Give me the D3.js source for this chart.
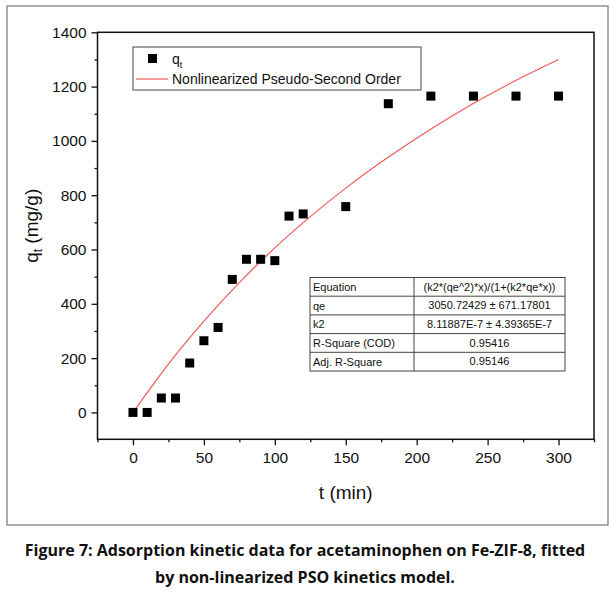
<!DOCTYPE html>
<html>
<head>
<meta charset="UTF-8">
<script src="https://d3js.org/d3.v7.min.js"></script>
<style>
  body { margin: 0; background: #fff; }
  svg text { font-family: 'Liberation Sans', Arial, sans-serif; fill: #111; }
  svg text.caption { font-family: 'Open Sans', Lato, sans-serif; font-weight: 700; font-size: 16px; }
</style>
</head>
<body>
<svg width="611" height="597"></svg>
<script>
// measured data
const tData = [0, 10, 20, 30, 40, 50, 60, 70, 80, 90, 100, 110, 120, 150, 180, 210, 240, 270, 300];
const qData = [0, 0, 53, 53, 182, 264, 313, 490, 564, 564, 559, 723, 731, 758, 1137, 1165, 1165, 1165, 1165];
// fitted PSO curve
const tFit = [0, 25, 50, 75, 100, 125, 150, 175, 200, 225, 250, 275, 300];
const qFit = [0, 178, 336, 478, 606, 721, 826, 922, 1010, 1092, 1167, 1236, 1300];
const xTicks = [0, 50, 100, 150, 200, 250, 300];
const yTicks = [0, 200, 400, 600, 800, 1000, 1200, 1400];
const tableRows = [
  ["Equation", "(k2*(qe^2)*x)/(1+(k2*qe*x))"],
  ["qe", "3050.72429 \u00b1 671.17801"],
  ["k2", "8.11887E-7 \u00b1 4.39365E-7"],
  ["R-Square (COD)", "0.95416"],
  ["Adj. R-Square", "0.95146"]
];

const svg = d3.select("svg");
const L = 97.5, R = 594, T = 32.3, B = 439.3;

// outer figure border
svg.append("rect").attr("x", 7).attr("y", 6).attr("width", 601).attr("height", 519)
  .attr("fill", "none").attr("stroke", "#777").attr("stroke-width", 1.2);

const x = d3.scaleLinear().domain([-25, 325]).range([L, R]);
const y = d3.scaleLinear().domain([-99, 1400]).range([B, T]);

// frame
svg.append("rect").attr("x", L).attr("y", T).attr("width", R - L).attr("height", B - T)
  .attr("fill", "none").attr("stroke", "#111").attr("stroke-width", 1.5);

// axes
svg.append("g").attr("transform", `translate(0,${B})`)
  .call(d3.axisBottom(x).tickValues(xTicks).tickSize(6).tickPadding(7).tickFormat(d3.format("d")));
svg.append("g").attr("transform", `translate(0,${B})`)
  .call(d3.axisBottom(x).tickValues(d3.range(-25, 326, 50)).tickSize(3).tickFormat(""));
svg.append("g").attr("transform", `translate(${L},0)`)
  .call(d3.axisLeft(y).tickValues(yTicks).tickSize(6).tickPadding(5).tickFormat(d3.format("d")));
svg.append("g").attr("transform", `translate(${L},0)`)
  .call(d3.axisLeft(y).tickValues(d3.range(100, 1400, 200)).tickSize(3).tickFormat(""));
svg.selectAll(".domain").remove();
svg.selectAll(".tick line").attr("stroke", "#111").attr("stroke-width", 1.3);
svg.selectAll(".tick text").attr("font-size", 15.5).attr("fill", "#111")
  .attr("font-family", "'Liberation Sans', Arial, sans-serif");

// axis titles
svg.append("text").attr("x", x(150)).attr("y", 499).attr("text-anchor", "middle")
  .attr("font-size", 19).text("t (min)");
const yt = svg.append("text").attr("transform", `translate(38,${(T + B) / 2 - 10}) rotate(-90)`)
  .attr("text-anchor", "middle").attr("font-size", 19);
yt.append("tspan").text("q");
yt.append("tspan").attr("font-size", 12).attr("dy", 4).text("t");
yt.append("tspan").attr("dy", -4).text(" (mg/g)");

// fit line
svg.append("path").datum(tFit.map((t, i) => [t, qFit[i]]))
  .attr("d", d3.line().x(d => x(d[0])).y(d => y(d[1])).curve(d3.curveMonotoneX))
  .attr("fill", "none").attr("stroke", "#f05a5a").attr("stroke-width", 1.2);

// points
svg.selectAll(".pt").data(tData).enter().append("rect")
  .attr("x", (d) => x(d) - 4.5).attr("y", (d, i) => y(qData[i]) - 4.5)
  .attr("width", 9).attr("height", 9).attr("fill", "#000");

// legend
svg.append("rect").attr("x", 133).attr("y", 47).attr("width", 288).attr("height", 43)
  .attr("fill", "#fff").attr("stroke", "#444").attr("stroke-width", 1);
svg.append("rect").attr("x", 148).attr("y", 54).attr("width", 9).attr("height", 9).attr("fill", "#000");
const lq = svg.append("text").attr("x", 172).attr("y", 64).attr("font-size", 14);
lq.append("tspan").text("q");
lq.append("tspan").attr("font-size", 9).attr("dy", 4).text("t");
svg.append("line").attr("x1", 136).attr("x2", 168).attr("y1", 79).attr("y2", 79)
  .attr("stroke", "#f05a5a").attr("stroke-width", 1.2);
svg.append("text").attr("x", 172).attr("y", 84).attr("font-size", 14)
  .text("Nonlinearized Pseudo-Second Order");

// stats table
const tx = 310, tw = 255, tdiv = 414, ty = 277.5, rh = 18.7;
const tbl = svg.append("g");
tbl.append("rect").attr("x", tx).attr("y", ty).attr("width", tw).attr("height", rh * tableRows.length)
  .attr("fill", "#fff").attr("stroke", "#444").attr("stroke-width", 1);
tbl.append("line").attr("x1", tdiv).attr("x2", tdiv).attr("y1", ty).attr("y2", ty + rh * tableRows.length)
  .attr("stroke", "#444");
tableRows.forEach((r, i) => {
  if (i > 0) tbl.append("line").attr("x1", tx).attr("x2", tx + tw)
    .attr("y1", ty + rh * i).attr("y2", ty + rh * i).attr("stroke", "#444");
  tbl.append("text").attr("x", tx + 3).attr("y", ty + rh * i + 13.5).attr("font-size", 11).text(r[0]);
  tbl.append("text").attr("x", (tdiv + tx + tw) / 2).attr("y", ty + rh * i + 13)
    .attr("text-anchor", "middle").attr("font-size", 11).text(r[1]);
});

// caption
svg.append("text").attr("class", "caption").attr("x", 305).attr("y", 556).attr("text-anchor", "middle")
  .text("Figure 7: Adsorption kinetic data for acetaminophen on Fe-ZIF-8, fitted");
svg.append("text").attr("class", "caption").attr("x", 305).attr("y", 583).attr("text-anchor", "middle")
  .text("by non-linearized PSO  kinetics model.");
</script>
</body>
</html>
